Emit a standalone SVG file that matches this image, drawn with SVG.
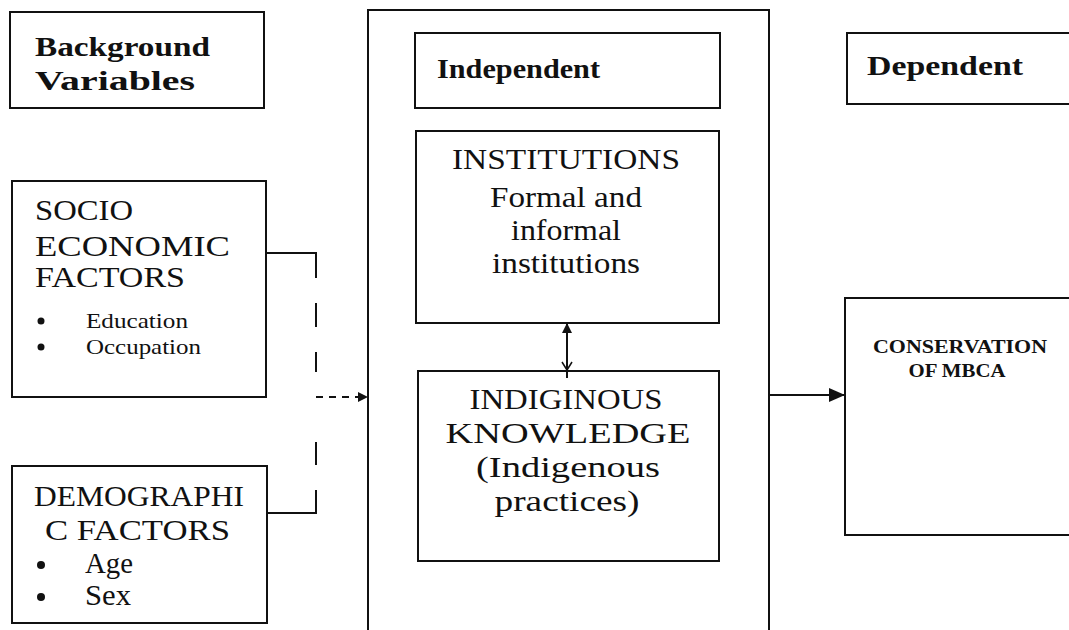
<svg xmlns="http://www.w3.org/2000/svg" width="1069" height="630" viewBox="0 0 1069 630">
<style>
.box{fill:#fff;stroke:#111;stroke-width:2}
.t{font-family:"Liberation Serif","Times New Roman",serif;font-size:29px;fill:#111}
.b{font-family:"Liberation Serif","Times New Roman",serif;font-size:27px;font-weight:bold;fill:#111}
.s{font-family:"Liberation Serif","Times New Roman",serif;font-size:21px;fill:#111}
.c{font-family:"Liberation Serif","Times New Roman",serif;font-size:19px;font-weight:bold;fill:#111}
.ln{fill:none;stroke:#111;stroke-width:2}
</style>
<defs>
<marker id="ah" markerWidth="10" markerHeight="10" refX="9" refY="5" orient="auto" markerUnits="userSpaceOnUse">
<path d="M0,0 L10,5 L0,10 z" fill="#111"/>
</marker>
<marker id="ahl" markerWidth="16" markerHeight="14" refX="15" refY="7" orient="auto" markerUnits="userSpaceOnUse">
<path d="M0,0 L16,7 L0,14 z" fill="#111"/>
</marker>
</defs>
<rect width="1069" height="630" fill="#fff"/>
<g id="background-label">
<rect class="box" x="10" y="12" width="254" height="96"/>
<text class="b" x="35" y="56" textLength="175" lengthAdjust="spacingAndGlyphs">Background</text>
<text class="b" x="35" y="90" textLength="160" lengthAdjust="spacingAndGlyphs">Variables</text>
</g>
<g id="outer-box"><rect class="box" x="368" y="10" width="401" height="640"/></g>
<g id="independent-label">
<rect class="box" x="415" y="33" width="305" height="75"/>
<text class="b" x="437" y="78" textLength="163" lengthAdjust="spacingAndGlyphs">Independent</text>
</g>
<g id="dependent-label">
<rect class="box" x="847" y="33" width="240" height="71"/>
<text class="b" x="867" y="75" textLength="156" lengthAdjust="spacingAndGlyphs">Dependent</text>
</g>
<g id="socio">
<rect class="box" x="12" y="181" width="254" height="216"/>
<text class="t" x="35" y="220" textLength="98" lengthAdjust="spacingAndGlyphs">SOCIO</text>
<text class="t" x="35" y="256" textLength="195" lengthAdjust="spacingAndGlyphs">ECONOMIC</text>
<text class="t" x="35" y="287" textLength="150" lengthAdjust="spacingAndGlyphs">FACTORS</text>
<circle cx="41" cy="321" r="3.5" fill="#111"/>
<text class="s" x="86" y="328" textLength="102" lengthAdjust="spacingAndGlyphs">Education</text>
<circle cx="41" cy="347" r="3.5" fill="#111"/>
<text class="s" x="86" y="354" textLength="115" lengthAdjust="spacingAndGlyphs">Occupation</text>
</g>
<g id="demographic">
<rect class="box" x="12" y="466" width="255" height="157"/>
<text class="t" x="34" y="506" textLength="210" lengthAdjust="spacingAndGlyphs">DEMOGRAPHI</text>
<text class="t" x="45" y="540" textLength="185" lengthAdjust="spacingAndGlyphs">C FACTORS</text>
<circle cx="41" cy="565" r="4" fill="#111"/>
<text class="t" x="85" y="573" textLength="48" lengthAdjust="spacingAndGlyphs">Age</text>
<circle cx="41" cy="597" r="4" fill="#111"/>
<text class="t" x="85" y="605" textLength="46" lengthAdjust="spacingAndGlyphs">Sex</text>
</g>
<g id="institutions">
<rect class="box" x="416" y="131" width="303" height="192"/>
<text class="t" x="566" y="169" text-anchor="middle" textLength="228" lengthAdjust="spacingAndGlyphs">INSTITUTIONS</text>
<text class="t" x="566" y="207" text-anchor="middle" textLength="152" lengthAdjust="spacingAndGlyphs">Formal and</text>
<text class="t" x="566" y="240" text-anchor="middle" textLength="110" lengthAdjust="spacingAndGlyphs">informal</text>
<text class="t" x="566" y="273" text-anchor="middle" textLength="148" lengthAdjust="spacingAndGlyphs">institutions</text>
</g>
<g id="indigenous">
<rect class="box" x="418" y="371" width="301" height="190"/>
<text class="t" x="566" y="409" text-anchor="middle" textLength="193" lengthAdjust="spacingAndGlyphs">INDIGINOUS</text>
<text class="t" x="568" y="443" text-anchor="middle" textLength="245" lengthAdjust="spacingAndGlyphs">KNOWLEDGE</text>
<text class="t" x="568" y="477" text-anchor="middle" textLength="184" lengthAdjust="spacingAndGlyphs">(Indigenous</text>
<text class="t" x="567" y="511" text-anchor="middle" textLength="145" lengthAdjust="spacingAndGlyphs">practices)</text>
</g>
<g id="conservation">
<rect class="box" x="845" y="298" width="240" height="237"/>
<text class="c" x="960" y="353" text-anchor="middle" textLength="174" lengthAdjust="spacingAndGlyphs">CONSERVATION</text>
<text class="c" x="957" y="377" text-anchor="middle" textLength="97" lengthAdjust="spacingAndGlyphs">OF MBCA</text>
</g>
<g id="connectors">
<polyline class="ln" points="266,253 316,253 316,278"/>
<line class="ln" x1="316" y1="303" x2="316" y2="327"/>
<line class="ln" x1="316" y1="352" x2="316" y2="372"/>
<line class="ln" x1="316" y1="442" x2="316" y2="465"/>
<polyline class="ln" points="316,490 316,513 267,513"/>
<line class="ln" x1="316" y1="397" x2="367" y2="397" stroke-dasharray="7,6" marker-end="url(#ah)"/>
<line class="ln" x1="567" y1="378" x2="567" y2="324" marker-end="url(#ah)"/>
<path d="M562,362 L567,370 L572,362" fill="none" stroke="#111" stroke-width="1.5"/>
<line class="ln" x1="769" y1="395" x2="844" y2="395" marker-end="url(#ahl)"/>
</g>
</svg>
